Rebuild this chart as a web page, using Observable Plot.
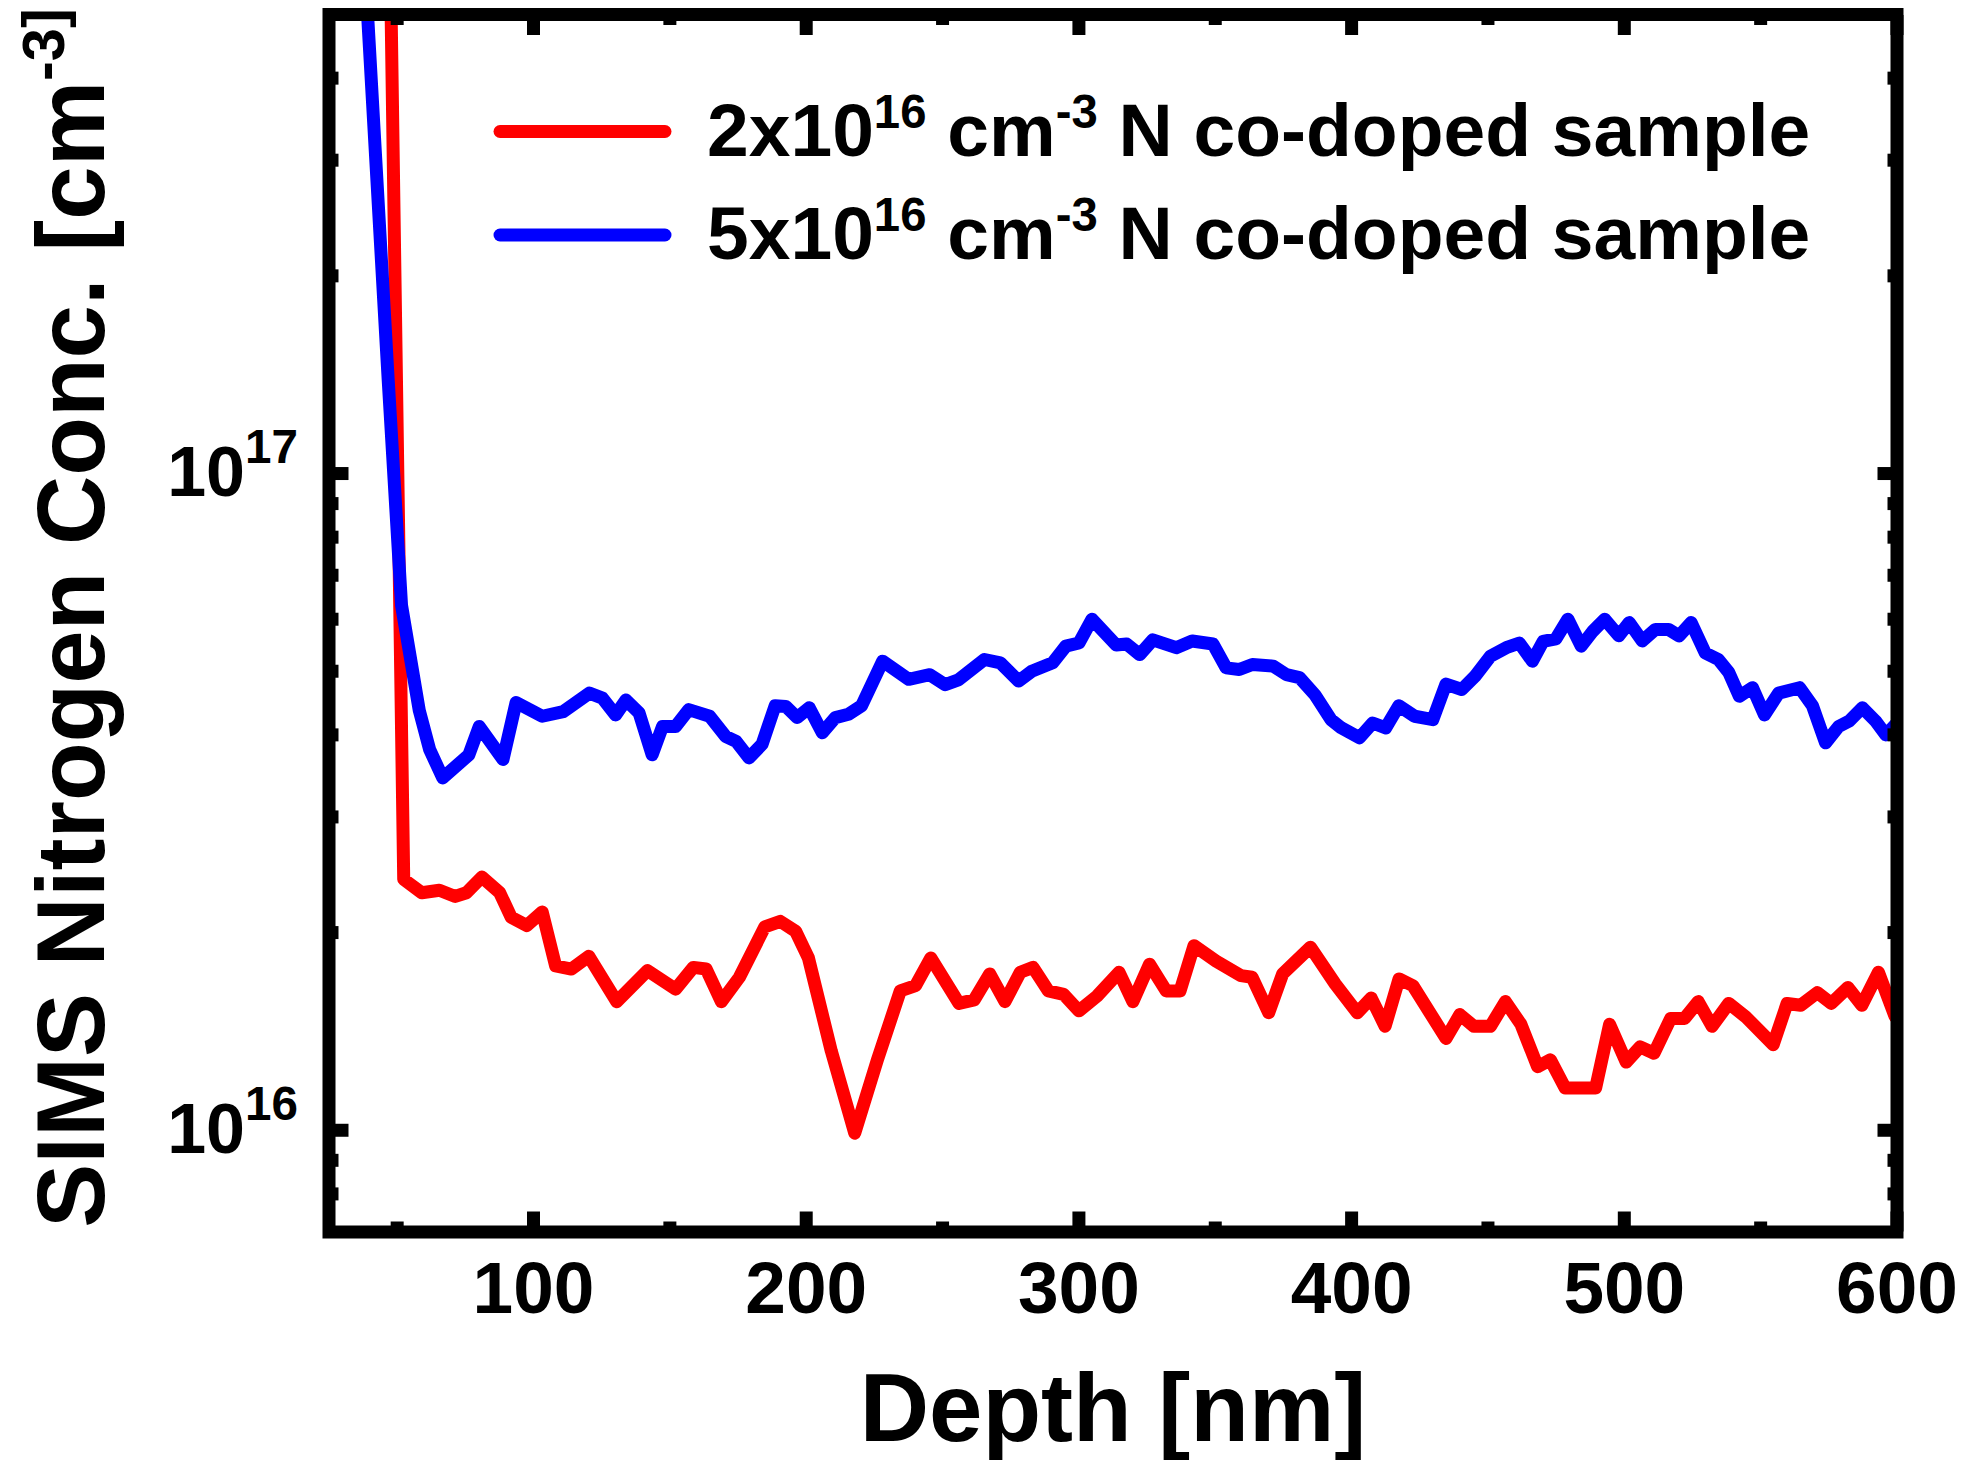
<!DOCTYPE html>
<html>
<head>
<meta charset="utf-8">
<script src="https://cdn.jsdelivr.net/npm/d3@7"></script>
<script src="https://cdn.jsdelivr.net/npm/@observablehq/plot@0.6"></script>
<style>
  html, body { margin: 0; padding: 0; background: #fff; }
  #chart svg { display: block; }
</style>
</head>
<body>
<div id="chart"></div>
<script>
// ---- Data ----
const redDepth = [47.7, 52.4, 59.0, 65.5, 71.3, 75.4, 81.1, 87.6, 91.8, 97.5, 103.2, 108.1, 113.9, 120.3,
  130.5, 141.8, 152.1, 158.6, 163.3, 168.9, 175.5, 184.8, 190.5, 196.1, 200.8, 209.2, 217.8, 226.1,
  234.5, 240.1, 245.7, 256.0, 261.6, 267.3, 272.9, 278.5, 283.2, 288.8, 294.4, 300.0, 306.6, 314.7,
  319.8, 325.9, 332.0, 337.1, 342.2, 350.3, 359.4, 363.5, 369.6, 374.7, 384.9, 394.0, 402.1, 407.2,
  412.3, 417.4, 422.5, 434.6, 439.7, 444.8, 450.9, 456.4, 462.1, 468.2, 472.9, 478.3, 489.5, 494.6,
  500.7, 505.8, 510.9, 517.0, 522.1, 527.1, 532.2, 538.3, 544.4, 554.6, 559.7, 564.7, 570.8, 575.9,
  582.0, 587.1, 593.2, 599.3];
const redConc = [5.3e17, 2.41e16, 2.30e16, 2.32e16, 2.27e16, 2.30e16, 2.43e16, 2.30e16, 2.11e16, 2.05e16, 2.15e16, 1.78e16, 1.76e16, 1.84e16,
  1.57e16, 1.75e16, 1.64e16, 1.77e16, 1.76e16, 1.57e16, 1.71e16, 2.04e16, 2.08e16, 2.01e16, 1.83e16, 1.32e16, 9.9e15, 1.28e16,
  1.63e16, 1.66e16, 1.83e16, 1.56e16, 1.58e16, 1.73e16, 1.57e16, 1.74e16, 1.77e16, 1.63e16, 1.61e16, 1.52e16, 1.60e16, 1.74e16,
  1.57e16, 1.79e16, 1.63e16, 1.63e16, 1.91e16, 1.81e16, 1.72e16, 1.71e16, 1.51e16, 1.73e16, 1.90e16, 1.67e16, 1.51e16, 1.59e16,
  1.44e16, 1.70e16, 1.66e16, 1.38e16, 1.50e16, 1.44e16, 1.44e16, 1.57e16, 1.45e16, 1.25e16, 1.28e16, 1.16e16, 1.16e16, 1.45e16,
  1.27e16, 1.34e16, 1.31e16, 1.48e16, 1.48e16, 1.57e16, 1.44e16, 1.56e16, 1.49e16, 1.35e16, 1.56e16, 1.55e16, 1.62e16, 1.56e16,
  1.65e16, 1.55e16, 1.74e16, 1.49e16];

const blueDepth = [38.8, 46.7, 51.6, 58.1, 61.9, 66.7, 76.3, 80.1, 88.8, 93.6, 103.2, 110.9, 120.5, 125.3, 130.1,
  133.9, 138.7, 143.5, 147.3, 152.1, 156.9, 164.6, 170.4, 174.3, 179.0, 183.8, 188.6, 192.5, 196.7, 201.1,
  205.9, 210.7, 215.5, 220.3, 228.0, 237.6, 245.3, 251.0, 255.8, 265.4, 271.2, 277.9, 282.7, 290.4, 295.2,
  300.0, 304.8, 313.7, 317.5, 322.3, 327.1, 335.7, 341.5, 349.2, 354.0, 358.8, 363.6, 371.3, 376.1, 380.9,
  386.6, 392.4, 396.2, 402.9, 407.7, 412.5, 417.3, 423.1, 429.8, 434.6, 440.4, 445.2, 450.9, 456.7, 461.5,
  466.3, 470.2, 474.9, 479.3, 484.2, 488.4, 492.8, 498.0, 501.8, 506.6, 511.4, 516.2, 520.1, 524.5, 529.7,
  534.5, 538.3, 542.2, 547.0, 551.4, 556.6, 564.3, 569.0, 573.8, 578.6, 582.5, 587.3, 592.1, 595.9, 600.0];
const blueConc = [5.3e17, 1.39e17, 6.3e16, 4.36e16, 3.80e16, 3.44e16, 3.73e16, 4.12e16, 3.67e16, 4.48e16, 4.27e16, 4.34e16, 4.63e16, 4.55e16, 4.29e16,
  4.52e16, 4.32e16, 3.73e16, 4.12e16, 4.12e16, 4.37e16, 4.27e16, 3.98e16, 3.91e16, 3.69e16, 3.87e16, 4.43e16, 4.42e16, 4.25e16, 4.40e16,
  4.03e16, 4.25e16, 4.30e16, 4.43e16, 5.18e16, 4.86e16, 4.94e16, 4.77e16, 4.85e16, 5.21e16, 5.15e16, 4.83e16, 5.00e16, 5.15e16, 5.46e16,
  5.52e16, 6.00e16, 5.48e16, 5.50e16, 5.30e16, 5.58e16, 5.43e16, 5.56e16, 5.50e16, 5.06e16, 5.03e16, 5.12e16, 5.09e16, 4.94e16, 4.89e16,
  4.60e16, 4.22e16, 4.10e16, 3.96e16, 4.17e16, 4.10e16, 4.43e16, 4.27e16, 4.22e16, 4.78e16, 4.69e16, 4.91e16, 5.27e16, 5.43e16, 5.52e16,
  5.18e16, 5.55e16, 5.60e16, 6.00e16, 5.46e16, 5.75e16, 6.00e16, 5.66e16, 5.93e16, 5.56e16, 5.79e16, 5.79e16, 5.66e16, 5.93e16, 5.33e16,
  5.21e16, 4.98e16, 4.58e16, 4.72e16, 4.29e16, 4.63e16, 4.72e16, 4.43e16, 3.89e16, 4.12e16, 4.20e16, 4.40e16, 4.20e16, 4.00e16, 4.17e16];

const seriesNames = ["2x10^16 cm^-3 N co-doped sample", "5x10^16 cm^-3 N co-doped sample"];
const seriesColors = ["#ff0000", "#0000ff"];

const xMajor = [100, 200, 300, 400, 500, 600];
const xMinor = [50, 150, 250, 350, 450, 550];
const yMajor = [1e16, 1e17];
const yMinor = [8e15, 9e15, 2e16, 3e16, 4e16, 5e16, 6e16, 7e16, 8e16, 9e16, 2e17, 3e17, 4e17];
const yTickLabels = ["10^16", "10^17"];

const xTitle = "Depth [nm]";
const yTitle = "SIMS Nitrogen Conc. [cm^-3]";

// ---- Build tables ----
const redData = redDepth.map((d, i) => ({depth: d, conc: redConc[i]}));
const blueData = blueDepth.map((d, i) => ({depth: d, conc: blueConc[i]}));

const FONT = "'Liberation Sans', Arial, Helvetica, sans-serif";
const W = 1968, H = 1460;
const mL = 328.5, mR = 71.5, mT = 14, mB = 228.5;
const xTickFont = 73, yTickFont = 70;
const majorLen = 20, minorLen = 10, tickW = 13;
const lineW = 13;

const tickStyle = {strokeWidth: tickW, strokeLinecap: "butt", text: null, label: null};

const chart = Plot.plot({
  width: W,
  height: H,
  marginLeft: mL,
  marginRight: mR,
  marginTop: mT,
  marginBottom: mB,
  style: {fontFamily: FONT, background: "#fff", color: "#000", overflow: "visible"},
  x: {domain: [25, 600]},
  y: {type: "log", domain: [7e15, 5e17]},
  marks: [
    Plot.line(redData, {x: "depth", y: "conc", stroke: seriesColors[0], strokeWidth: lineW, strokeLinejoin: "round", strokeLinecap: "round", clip: true}),
    Plot.line(blueData, {x: "depth", y: "conc", stroke: seriesColors[1], strokeWidth: lineW, strokeLinejoin: "round", strokeLinecap: "round", clip: true}),
    // inward ticks on all four sides
    Plot.axisX(xMajor, {anchor: "bottom", tickSize: -majorLen, ...tickStyle}),
    Plot.axisX(xMinor, {anchor: "bottom", tickSize: -minorLen, ...tickStyle}),
    Plot.axisX(xMajor, {anchor: "top", tickSize: -majorLen, ...tickStyle}),
    Plot.axisX(xMinor, {anchor: "top", tickSize: -minorLen, ...tickStyle}),
    Plot.axisY(yMajor, {anchor: "left", tickSize: -majorLen, ...tickStyle}),
    Plot.axisY(yMinor, {anchor: "left", tickSize: -minorLen, ...tickStyle}),
    Plot.axisY(yMajor, {anchor: "right", tickSize: -majorLen, ...tickStyle}),
    Plot.axisY(yMinor, {anchor: "right", tickSize: -minorLen, ...tickStyle}),
    // tick labels
    Plot.axisX(xMajor, {anchor: "bottom", tickSize: 0, tickPadding: 29, fontSize: xTickFont, fontWeight: "bold", label: null, tickFormat: d => String(d)}),
    Plot.axisY(yMajor, {anchor: "left", tickSize: 0, tickPadding: 31, fontSize: yTickFont, fontWeight: "bold", label: null,
      tickFormat: d => yTickLabels[yMajor.indexOf(d)]}),
    Plot.frame({stroke: "#000", strokeWidth: 13})
  ]
});

document.getElementById("chart").appendChild(chart);

const svg = d3.select(chart);

// superscript helper: "a^b c" -> a, raised b, then c on the baseline
function setSup(sel, str, supScale, supDy) {
  sel.text(null);
  const parts = str.split(/\^(\S+)/);
  parts.forEach((p, i) => {
    if (p === "") return;
    if (i % 2 === 0) {
      sel.append("tspan").text(p);
    } else {
      sel.append("tspan").attr("font-size", (supScale * 100) + "%").attr("dy", supDy).text(p);
      const next = parts[i + 1];
      if (next !== undefined && next !== "") {
        sel.append("tspan").attr("dy", -supDy).text(next);
        parts[i + 1] = "";
      }
    }
  });
}

svg.selectAll('g[aria-label="y-axis tick label"] text').each(function() {
  const t = d3.select(this);
  setSup(t, t.text(), 0.68, -0.47 * yTickFont);
});

// ---- Legend ----
const legendFont = 75;
const legendRows = [
  {y: 131.5, base: 156},
  {y: 235, base: 259}
];
const leg = svg.append("g").attr("aria-label", "legend");
seriesNames.forEach((name, i) => {
  leg.append("line")
    .attr("x1", 500).attr("x2", 665)
    .attr("y1", legendRows[i].y).attr("y2", legendRows[i].y)
    .attr("stroke", seriesColors[i]).attr("stroke-width", 13).attr("stroke-linecap", "round");
  const t = leg.append("text")
    .attr("x", 707).attr("y", legendRows[i].base)
    .attr("text-anchor", "start")
    .attr("font-family", FONT).attr("font-weight", "bold").attr("font-size", legendFont)
    .attr("fill", "#000");
  setSup(t, name, 0.63, -0.38 * legendFont);
});

// ---- Axis titles ----
svg.append("text")
  .attr("x", 1113).attr("y", 1441)
  .attr("text-anchor", "middle")
  .attr("font-family", FONT).attr("font-weight", "bold").attr("font-size", 96)
  .attr("fill", "#000")
  .text(xTitle);

const yt = svg.append("text")
  .attr("transform", "translate(104,618) rotate(-90)")
  .attr("text-anchor", "middle")
  .attr("font-family", FONT).attr("font-weight", "bold").attr("font-size", 96)
  .attr("fill", "#000");
setSup(yt, yTitle, 0.62, -0.42 * 96);
</script>
</body>
</html>
